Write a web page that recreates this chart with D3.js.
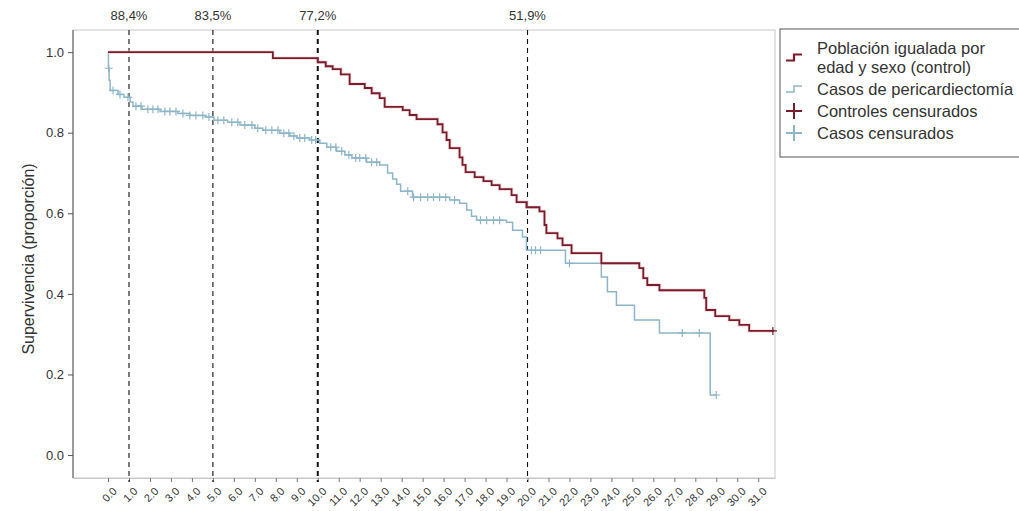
<!DOCTYPE html>
<html>
<head>
<meta charset="utf-8">
<script src="https://cdn.jsdelivr.net/npm/d3@7"></script>
<style>
  body { margin: 0; background: #fff; }
  text { font-family: "Liberation Sans", Arial, sans-serif; }
</style>
</head>
<body>
<div id="chart"></div>
<script>
// Survival of matched controls (years, proportion)
const ctrlTime = [0, 7.86, 10.0, 10.38, 10.71, 11.10, 11.52, 12.24, 12.57, 12.95, 13.19, 14.05, 14.38, 14.71,
  15.71, 15.95, 16.14, 16.29, 16.76, 16.90, 17.05, 17.48, 17.90, 18.29, 18.67, 19.24, 19.48, 19.95, 20.57,
  20.81, 20.90, 21.43, 21.67, 22.10, 23.52, 25.33, 25.52, 25.71, 26.29, 28.43, 28.52, 28.95, 29.62, 30.10, 30.57];
const ctrlSurv = [1.0, 0.985, 0.975, 0.965, 0.958, 0.945, 0.921, 0.911, 0.898, 0.886, 0.864, 0.856, 0.844, 0.834,
  0.821, 0.801, 0.782, 0.762, 0.739, 0.720, 0.702, 0.690, 0.680, 0.670, 0.660, 0.645, 0.628, 0.615, 0.605,
  0.571, 0.551, 0.538, 0.521, 0.501, 0.476, 0.464, 0.439, 0.422, 0.409, 0.390, 0.360, 0.345, 0.335, 0.323, 0.308];
const ctrlEnd = 31.76;
const ctrlCensor = [31.7];

// Survival of pericardiectomy cases
const caseTime = [0, 0.02, 0.05, 0.1, 0.48, 0.76, 1.05, 1.19, 1.62, 2.48, 3.33, 3.90, 4.62, 5.05, 5.71, 6.29,
  7.0, 7.38, 8.19, 8.67, 9.0, 9.62, 10.1, 10.43, 10.9, 11.29, 11.62, 12.33, 12.95, 13.33, 13.57, 13.76, 13.95,
  14.52, 16.29, 16.76, 17.10, 17.33, 17.57, 19.0, 19.29, 19.76, 19.95, 21.81, 23.52, 23.81, 24.24, 25.1, 26.29, 28.71];
const caseSurv = [1.0, 0.96, 0.93, 0.905, 0.895, 0.888, 0.876, 0.866, 0.858, 0.853, 0.848, 0.843, 0.839, 0.831, 0.826, 0.819,
  0.811, 0.806, 0.799, 0.792, 0.787, 0.782, 0.774, 0.764, 0.754, 0.745, 0.737, 0.727, 0.720, 0.700, 0.685, 0.672, 0.655,
  0.640, 0.633, 0.625, 0.608, 0.593, 0.583, 0.578, 0.558, 0.541, 0.508, 0.476, 0.442, 0.405, 0.372, 0.335, 0.303, 0.149];
const caseEnd = 29.0;
const caseCensor = [0.03, 0.24, 0.57, 0.95, 1.33, 1.57, 1.9, 2.14, 2.38, 2.71, 2.95, 3.24, 3.57, 3.9, 4.19, 4.52,
  4.81, 5.24, 5.52, 5.9, 6.19, 6.52, 6.86, 7.14, 7.52, 7.81, 8.1, 8.38, 8.62, 8.86, 9.14, 9.38, 9.71, 9.9,
  10.62, 10.86, 11.14, 11.48, 11.81, 12.0, 12.29, 12.57, 12.81, 14.29, 14.57, 14.9, 15.24, 15.52, 15.81, 16.1,
  16.52, 17.76, 18.05, 18.38, 18.67, 20.19, 20.38, 20.62, 22.0, 27.38, 28.19, 29.0];

// Reference times and relative survival labels
const refTimes = [1, 5, 10, 20];
const refLabels = ["88,4%", "83,5%", "77,2%", "51,9%"];

const xTicks = d3.range(0, 32);
const xTickLabels = xTicks.map(k => k + ".0");
const yTicks = [0, 0.2, 0.4, 0.6, 0.8, 1.0];

const legendItems = [
  { lines: ["Población igualada por", "edad y sexo (control)"], color: "#7b1c2c", kind: "step" },
  { lines: ["Casos de pericardiectomía"], color: "#8db6c9", kind: "step" },
  { lines: ["Controles censurados"], color: "#7b1c2c", kind: "plus" },
  { lines: ["Casos censurados"], color: "#8db6c9", kind: "plus" }
];

const width = 1019, height = 511;
const margin = { top: 30, right: 244, bottom: 33, left: 73 };
const ctrlColor = "#7b1c2c", caseColor = "#8db6c9";

const x = d3.scaleLinear().domain([-1.67, 31.8]).range([margin.left, width - margin.right]);
const y = d3.scaleLinear().domain([-0.057, 1.055]).range([height - margin.bottom, margin.top]);

const svg = d3.select("#chart").append("svg")
  .attr("width", width)
  .attr("height", height)
  .style("display", "block");

// plot frame (light top/right/bottom)
svg.append("rect")
  .attr("x", margin.left).attr("y", margin.top)
  .attr("width", width - margin.right - margin.left)
  .attr("height", height - margin.bottom - margin.top)
  .attr("fill", "none").attr("stroke", "#c8c8c8").attr("stroke-width", 1);

// y axis
const yAxis = svg.append("g")
  .attr("transform", `translate(${margin.left},0)`)
  .call(d3.axisLeft(y).tickValues(yTicks).tickFormat(d3.format(".1f")).tickSize(5).tickPadding(4));
yAxis.select(".domain").attr("stroke", "#555").attr("d", `M0,${margin.top}V${height - margin.bottom}`);
yAxis.selectAll(".tick line").attr("stroke", "#555");
yAxis.selectAll("text").attr("fill", "#333").style("font-size", "13px");

svg.append("text")
  .attr("transform", "translate(34,259) rotate(-90)")
  .attr("text-anchor", "middle")
  .attr("fill", "#333")
  .style("font-size", "16px")
  .text("Supervivencia (proporción)");

// x axis
const xAxis = svg.append("g")
  .attr("transform", `translate(0,${height - margin.bottom})`)
  .call(d3.axisBottom(x).tickValues(xTicks).tickFormat((d, i) => xTickLabels[i]).tickSize(4).tickSizeOuter(0));
xAxis.select(".domain").attr("stroke", "#c8c8c8");
xAxis.selectAll(".tick line").attr("stroke", "#777");
xAxis.selectAll("text")
  .attr("fill", "#333")
  .style("font-size", "11px")
  .attr("text-anchor", "end")
  .attr("dx", 0).attr("dy", 0)
  .attr("transform", "translate(4,9) rotate(-45)");

// reference dashed lines
svg.append("g").selectAll("line")
  .data(refTimes)
  .join("line")
    .attr("x1", d => x(d)).attr("x2", d => x(d))
    .attr("y1", margin.top).attr("y2", height - margin.bottom + 4)
    .attr("stroke", "#111")
    .attr("stroke-width", (d, i) => i === 2 ? 2 : 1.1)
    .attr("stroke-dasharray", "5,4");

svg.append("g").selectAll("text")
  .data(refTimes)
  .join("text")
    .attr("x", d => x(d)).attr("y", 20)
    .attr("text-anchor", "middle")
    .attr("fill", "#333")
    .style("font-size", "13px")
    .text((d, i) => refLabels[i]);

// survival curves
const stepLine = d3.line().x(d => x(d[0])).y(d => y(d[1])).curve(d3.curveStepAfter);
const ctrlPts = ctrlTime.map((t, i) => [t, ctrlSurv[i]]).concat([[ctrlEnd, ctrlSurv[ctrlSurv.length - 1]]]);
const casePts = caseTime.map((t, i) => [t, caseSurv[i]]).concat([[caseEnd, caseSurv[caseSurv.length - 1]]]);

function survAt(times, surv, t) {
  let v = surv[0];
  for (let i = 0; i < times.length; i++) if (times[i] <= t) v = surv[i];
  return v;
}

svg.append("path")
  .attr("d", stepLine(casePts))
  .attr("fill", "none").attr("stroke", caseColor).attr("stroke-width", 1.5);

svg.append("path")
  .attr("d", stepLine(ctrlPts))
  .attr("fill", "none").attr("stroke", "#f0c8cc").attr("stroke-width", 3.5).attr("opacity", 0.6);
svg.append("path")
  .attr("d", stepLine(ctrlPts))
  .attr("fill", "none").attr("stroke", ctrlColor).attr("stroke-width", 1.8);

function plus(g, data, times, surv, color, r) {
  g.selectAll("path")
    .data(data)
    .join("path")
      .attr("d", d => {
        const cx = x(d), cy = y(survAt(times, surv, d));
        return `M${cx - r},${cy}H${cx + r}M${cx},${cy - r}V${cy + r}`;
      })
      .attr("stroke", color).attr("stroke-width", 1.2).attr("fill", "none");
}
plus(svg.append("g"), caseCensor, caseTime, caseSurv, caseColor, 4);
plus(svg.append("g"), ctrlCensor, ctrlTime, ctrlSurv, ctrlColor, 4);

// legend
const legend = svg.append("g").attr("transform", "translate(780,29)");
legend.append("rect")
  .attr("width", 260).attr("height", 128)
  .attr("fill", "#fff").attr("stroke", "#555").attr("stroke-width", 1);

let rowY = 19;
legendItems.forEach(item => {
  const g = legend.append("g");
  const iconY = rowY + (item.lines.length - 1) * 9.5;
  if (item.kind === "step") {
    g.append("path")
      .attr("d", `M6,${iconY + 3}H14V${iconY - 3}H22`)
      .attr("fill", "none").attr("stroke", item.color).attr("stroke-width", item.color === ctrlColor ? 2.2 : 1.5);
  } else {
    g.append("path")
      .attr("d", `M6,${iconY}H22M14,${iconY - 8}V${iconY + 8}`)
      .attr("fill", "none").attr("stroke", item.color).attr("stroke-width", 2);
  }
  item.lines.forEach((ln, j) => {
    g.append("text")
      .attr("x", 37).attr("y", rowY + j * 19 + 6)
      .attr("fill", "#333")
      .style("font-size", "16.5px")
      .text(ln);
  });
  rowY += item.lines.length * 19 + 3;
});
</script>
</body>
</html>
